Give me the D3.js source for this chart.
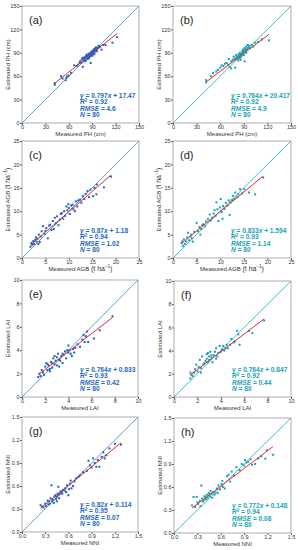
<!DOCTYPE html>
<html>
<head>
<meta charset="utf-8">
<script src="https://cdn.jsdelivr.net/npm/d3@7"></script>
<style>
  body { margin: 0; background: #fff; }
  svg { display: block; font-family: "Liberation Sans", Arial, sans-serif; }
</style>
</head>
<body>
<div id="chart"></div>
<script>
// measured / estimated pairs
const dataA = [[42,49],[42,51],[50,60],[52,57],[56,55],[57,58],[58,60],[60,61],[63,64],[67,74],[70,73],[72,75],[74,78],[75,80],[77,83],[78,72],[78,81],[80,82],[80,79],[81,84],[82,86],[83,88],[83,85],[84,82],[85,87],[85,84],[86,89],[86,86],[87,88],[87,85],[88,90],[88,77],[88,87],[89,91],[89,88],[90,92],[90,89],[90,86],[91,93],[91,90],[92,94],[92,91],[93,95],[93,89],[94,92],[94,96],[95,94],[95,97],[96,95],[97,96],[98,99],[99,97],[100,98],[102,94],[104,100],[107,100],[116,103],[122,110],[84,86],[86,83],[82,80],[79,84],[76,77],[92,88],[96,92]];
const dataB = [[42,55],[42,52],[48,60],[51,64],[55,66],[57,68],[60,71],[62,74],[64,73],[66,76],[68,77],[70,75],[71,82],[72,72],[74,70],[74,79],[76,81],[77,85],[78,82],[79,71],[80,84],[80,87],[81,82],[82,85],[83,88],[84,86],[84,83],[85,90],[85,87],[86,88],[86,84],[87,89],[87,86],[88,92],[88,88],[89,94],[89,90],[90,91],[90,87],[91,96],[91,79],[91,93],[92,92],[92,95],[93,98],[93,90],[94,94],[95,100],[95,96],[96,97],[97,99],[98,96],[100,100],[102,98],[104,103],[108,104],[113,107],[122,106],[86,81],[83,80]];
const dataC = [[1.8,2.4],[2,3.2],[2.2,2.8],[2.4,3.6],[2.6,3.0],[2.8,3.9],[3,4.4],[3.1,3.5],[3.3,4.1],[3.6,5],[3.8,3.4],[4,4.6],[4.2,5.7],[4.5,6.8],[4.8,5.2],[5.2,6.4],[5.5,4.2],[5.8,6.9],[6,7.1],[6.3,6.0],[6.6,7.9],[7,8.6],[7.2,7.4],[7.5,8.9],[7.8,7.0],[8.1,8.2],[8.3,9.4],[8.5,9.6],[8.8,8.4],[9,10],[9.2,9.0],[9.5,11],[9.7,10.2],[10,10.7],[10.2,9.4],[10.5,11.2],[10.8,11.4],[11,10.4],[11.3,10],[11.5,12.1],[11.8,11.0],[12,12.3],[12.4,12.5],[12.7,11.8],[13,13.2],[13.3,12.6],[13.6,13.7],[14,14.3],[14.3,13.0],[14.6,14.6],[15.2,13.2],[15.5,15.0],[15.9,13.6],[16,15.7],[17.5,15.1],[19,17.4],[6.8,6.2],[9.9,11.5],[3.5,3.0],[5,5.8]];
const dataD = [[1.8,3.2],[2,3.6],[2.1,2.6],[2.3,4],[2.5,3.0],[2.8,3.5],[3,4.4],[3.2,5.4],[3.4,3.8],[3.7,4.6],[3.9,5],[4.2,3.5],[4.5,5.6],[5,7.5],[5.3,5.7],[5.6,6.6],[6,6.2],[6.4,7.2],[6.8,6.8],[7,7.8],[7.4,8.3],[7.8,9.3],[8,8.0],[8.3,8.6],[8.6,9.5],[9,9.0],[9.2,11.9],[9.4,10.4],[9.6,7.9],[9.9,10.8],[10.1,12.6],[10.3,9.8],[10.6,11.1],[10.9,10.5],[11.2,11.8],[11.5,11.2],[12,9.2],[12.2,11.9],[12.5,12.4],[12.7,13.3],[13,12.6],[13.2,14],[13.5,13.0],[13.8,13.6],[14.2,14.7],[14.6,13.8],[15.1,14.7],[16.1,14],[17.4,13.6],[19.1,17.2],[5.8,5.0],[8.8,10.2],[10.5,8.4],[11.8,12.3],[6.2,7.0],[4,4.2]];
const dataE = [[1.4,1.7],[1.5,2],[1.6,1.8],[1.8,2.1],[1.9,1.9],[2,2.6],[2.1,2.9],[2.2,2.3],[2.3,2.7],[2.4,2.4],[2.5,3.0],[2.6,2.5],[2.7,3.3],[2.8,2.8],[2.9,3.1],[3,3.4],[3.1,3.7],[3.2,2.6],[3.3,3.1],[3.4,3.5],[3.5,2.9],[3.6,3.6],[3.7,3.9],[3.8,3.3],[3.9,4],[4,3.8],[4.1,4],[4.2,3.7],[4.3,3.5],[4.4,4.1],[4.6,4.2],[4.8,4.5],[5,4.3],[5.2,4.9],[5.4,4.7],[5.5,5.2],[5.6,5.6],[5.7,4.7],[6.2,5],[6.7,5.7],[7.8,6.9],[2.4,2.2],[3.0,2.7],[3.5,3.7],[4.5,3.8],[2.2,2.8],[2.8,3.5],[3.2,3.2],[1.7,2.3],[4.0,4.4],[5.3,5.3],[2.6,2.9]];
const dataF = [[1.4,1.6],[1.4,2.1],[1.5,1.9],[1.6,1.8],[1.8,2.4],[1.9,2.8],[2,2.2],[2.1,2.6],[2.2,3.2],[2.3,2.5],[2.4,3.5],[2.5,2.8],[2.6,2.9],[2.7,3.1],[2.8,3.7],[2.9,3.8],[3,3.2],[3.1,3.9],[3.2,3.4],[3.3,3.0],[3.4,3.6],[3.5,3.9],[3.6,4.2],[3.7,3.5],[3.8,3.8],[3.9,4.4],[4,3.9],[4.1,4.1],[4.3,4.0],[4.5,4.5],[4.6,4.2],[4.8,4.5],[4.9,5],[5.1,4.7],[5.2,4.8],[5.4,5.7],[5.5,5.4],[5.6,4.5],[6.4,5.7],[6.7,5.5],[7.7,6.6],[2.3,2.1],[2.8,3.3],[3.2,3.6],[3.6,3.3],[4.2,4.4],[1.7,2.1],[2.9,3.0],[4.4,4.2],[3.0,3.5]];
const dataG = [[0.24,0.35],[0.26,0.33],[0.28,0.32],[0.3,0.37],[0.31,0.34],[0.33,0.41],[0.34,0.36],[0.36,0.37],[0.37,0.44],[0.38,0.61],[0.39,0.4],[0.4,0.42],[0.41,0.38],[0.42,0.46],[0.43,0.48],[0.44,0.43],[0.45,0.46],[0.46,0.5],[0.47,0.48],[0.47,0.59],[0.48,0.44],[0.49,0.5],[0.5,0.53],[0.51,0.52],[0.53,0.55],[0.55,0.54],[0.56,0.57],[0.58,0.61],[0.6,0.48],[0.61,0.56],[0.62,0.63],[0.64,0.57],[0.66,0.6],[0.68,0.66],[0.7,0.7],[0.73,0.72],[0.75,0.74],[0.79,0.78],[0.84,0.8],[0.86,0.93],[0.88,0.87],[0.9,0.84],[0.92,0.96],[0.94,0.9],[0.96,0.85],[1.0,0.85],[1.03,0.98],[1.05,1.04],[1.07,0.96],[1.09,1.0],[1.13,1.09],[1.2,1.15],[1.28,1.14],[0.35,0.4],[0.45,0.4],[0.52,0.5],[0.57,0.52],[0.63,0.67],[0.98,0.94]];
const dataH = [[0.23,0.36],[0.25,0.47],[0.27,0.34],[0.29,0.47],[0.3,0.4],[0.31,0.38],[0.33,0.42],[0.35,0.62],[0.36,0.45],[0.38,0.43],[0.39,0.48],[0.4,0.47],[0.41,0.44],[0.42,0.5],[0.43,0.46],[0.44,0.49],[0.45,0.52],[0.46,0.48],[0.48,0.51],[0.49,0.46],[0.5,0.53],[0.52,0.5],[0.53,0.53],[0.55,0.58],[0.57,0.62],[0.59,0.57],[0.61,0.64],[0.63,0.6],[0.65,0.58],[0.68,0.74],[0.7,0.76],[0.72,0.67],[0.74,0.8],[0.77,0.75],[0.8,0.86],[0.84,0.82],[0.87,0.9],[0.9,0.88],[0.91,0.95],[0.95,0.93],[0.98,0.96],[1.0,0.89],[1.04,0.9],[1.08,0.97],[1.12,1.0],[1.17,0.97],[1.19,1.08],[1.27,1.02],[0.37,0.41],[0.47,0.55],[0.56,0.52],[0.62,0.68],[0.34,0.35],[0.93,0.92]];

// tick values per variable
const ticksPH = [0, 30, 60, 90, 120, 150];
const ticksAGB = [0, 5, 10, 15, 20, 25];
const ticksLAI = [0, 2, 4, 6, 8, 10];
const ticksNNI = [0, 0.3, 0.6, 0.9, 1.2, 1.5];

// fit lines and stats text
const letters = ["a", "b", "c", "d", "e", "f", "g", "h"];
const slopes = [0.797, 0.764, 0.87, 0.833, 0.764, 0.764, 0.82, 0.772];
const intercepts = [17.47, 20.417, 1.18, 1.594, 0.833, 0.847, 0.114, 0.148];
const eqText = ["0.797x + 17.47", "0.764x + 20.417", "0.87x + 1.18", "0.833x + 1.594", "0.764x + 0.833", "0.764x + 0.847", "0.82x + 0.114", "0.772x + 0.148"];
const r2Text = ["0.92", "0.92", "0.94", "0.93", "0.93", "0.92", "0.95", "0.94"];
const rmseText = ["4.6", "4.9", "1.02", "1.14", "0.42", "0.44", "0.07", "0.08"];
const nText = ["80", "80", "80", "80", "80", "80", "80", "80"];

const allData = [dataA, dataB, dataC, dataD, dataE, dataF, dataG, dataH];
const rowTicks = [ticksPH, ticksAGB, ticksLAI, ticksNNI];
const rowNames = ["PH (cm)", "AGB", "LAI", "NNI"];

const W = 298, H = 550;
const svg = d3.select("#chart").append("svg")
  .attr("width", W).attr("height", H);

// plot boxes [left, top, right, bottom]
const boxes = [
  [22, 6, 139, 123], [173, 6, 291, 123],
  [22, 141, 139, 258], [173, 141, 291, 258],
  [22, 280, 138, 397], [174, 281, 291, 397],
  [22, 417, 138, 532], [174, 418, 291, 533]
];

const colLeft = {pt: "#1c67c0", one: "#4a95d6", txt: "#1c67c0"};
const colRight = {pt: "#18a2b3", one: "#2ab6c6", txt: "#18a2b3"};
const red = "#e8262a";

allData.forEach(function(data, i) {
  const row = Math.floor(i / 2);
  const c = i % 2 === 0 ? colLeft : colRight;
  const [x0, y0, x1, y1] = boxes[i];
  const ticks = rowTicks[row];
  const dom = [0, ticks[ticks.length - 1]];
  const x = d3.scaleLinear().domain(dom).range([x0, x1]);
  const y = d3.scaleLinear().domain(dom).range([y1, y0]);
  const fmt = row === 3 ? d3.format(".1f") : d3.format("d");

  const g = svg.append("g");

  // axes
  const ax = g.append("g")
    .attr("transform", `translate(0,${y1})`)
    .call(d3.axisBottom(x).tickValues(ticks).tickSize(2).tickPadding(0.5).tickFormat(fmt));
  const ay = g.append("g")
    .attr("transform", `translate(${x0},0)`)
    .call(d3.axisLeft(y).tickValues(ticks).tickSize(2).tickPadding(0.5).tickFormat(fmt));
  [ax, ay].forEach(function(a) {
    a.select(".domain").remove();
    a.selectAll("line").attr("stroke", "#555");
    a.selectAll("text").attr("font-size", 5.5).attr("fill", "#333")
      .attr("font-family", "Liberation Sans, Arial, sans-serif");
  });

  // frame
  g.append("rect")
    .attr("x", x0).attr("y", y0)
    .attr("width", x1 - x0).attr("height", y1 - y0)
    .attr("fill", "none").attr("stroke", "#9a9a9a").attr("stroke-width", 0.8);

  // 1:1 line
  g.append("line")
    .attr("x1", x(dom[0])).attr("y1", y(dom[0]))
    .attr("x2", x(dom[1])).attr("y2", y(dom[1]))
    .attr("stroke", c.one).attr("stroke-width", 0.9);

  // points
  g.append("g").selectAll("rect")
    .data(data)
    .join("rect")
      .attr("x", d => x(d[0]) - 1)
      .attr("y", d => y(d[1]) - 1)
      .attr("width", 2).attr("height", 2)
      .attr("fill", c.pt);

  // fit line over the measured range
  const ext = d3.extent(data, d => d[0]);
  g.append("line")
    .attr("x1", x(ext[0])).attr("y1", y(slopes[i] * ext[0] + intercepts[i]))
    .attr("x2", x(ext[1])).attr("y2", y(slopes[i] * ext[1] + intercepts[i]))
    .attr("stroke", red).attr("stroke-width", 1);

  // panel letter
  g.append("text")
    .attr("x", x0 + 7).attr("y", y0 + 18)
    .attr("font-size", 11).attr("fill", "#222")
    .text(`(${letters[i]})`);

  // stats
  const st = g.append("text")
    .attr("font-size", 6.6).attr("font-weight", "bold").attr("fill", c.txt);
  const sx = x0 + 58, sy = y1 - 25;
  const parts = eqText[i].split("x");
  const l1 = st.append("tspan").attr("x", sx).attr("y", sy);
  l1.append("tspan").attr("font-style", "italic").text("y");
  l1.append("tspan").text(" = " + parts[0]);
  l1.append("tspan").attr("font-style", "italic").text("x");
  l1.append("tspan").text(parts[1]);
  const l2 = st.append("tspan").attr("x", sx).attr("y", sy + 6.3);
  l2.append("tspan").attr("font-style", "italic").text("R");
  l2.append("tspan").attr("font-size", 4.5).attr("dy", -2.5).text("2");
  l2.append("tspan").attr("dy", 2.5).text(" = " + r2Text[i]);
  const l3 = st.append("tspan").attr("x", sx).attr("y", sy + 12.6);
  l3.append("tspan").attr("font-style", "italic").text("RMSE");
  l3.append("tspan").text(" = " + rmseText[i]);
  const l4 = st.append("tspan").attr("x", sx).attr("y", sy + 18.9);
  l4.append("tspan").attr("font-style", "italic").text("N");
  l4.append("tspan").text(" = " + nText[i]);

  // axis titles
  const xt = g.append("text")
    .attr("x", (x0 + x1) / 2).attr("y", y1 + 12.5)
    .attr("text-anchor", "middle").attr("font-size", 6).attr("fill", "#333");
  const yt = g.append("text")
    .attr("transform", `translate(${x0 - 12.5},${(y0 + y1) / 2}) rotate(-90)`)
    .attr("text-anchor", "middle").attr("font-size", 6).attr("fill", "#333");
  if (row === 1) {
    [[xt, "Measured AGB "], [yt, "Estimated AGB "]].forEach(function(p) {
      p[0].append("tspan").text(p[1]);
      p[0].append("tspan").attr("font-size", 7).text(" (t ha");
      p[0].append("tspan").attr("font-size", 4.5).attr("dy", -3).text("\u22121");
      p[0].append("tspan").attr("font-size", 7).attr("dy", 3).text(")");
    });
  } else {
    xt.text("Measured " + rowNames[row]);
    yt.text("Estimated " + rowNames[row]);
  }
});
</script>
</body>
</html>
